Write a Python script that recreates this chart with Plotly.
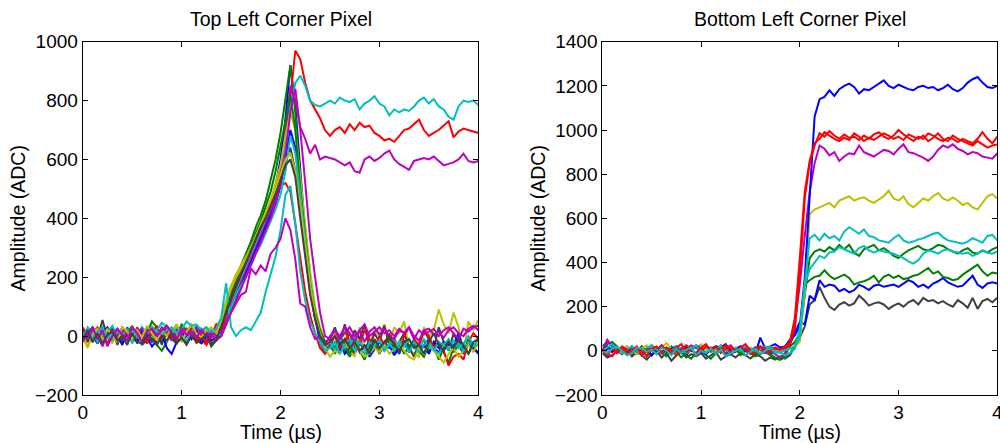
import plotly.graph_objects as go

# sample times (µs), 0.05 µs spacing
TIME = [round(i * 0.05, 2) for i in range(81)]

# ---------------- Top Left Corner Pixel ----------------
TL_BLUE_A = [0, 15, -10, 20, 5, -25, 10, -5, 25, 0, -15, 20, -30, -10, 15, 5, -20, 10, -5, 20, -15, 0, 25, -10, 15, -20, 5, 10,
             25, 70, 120, 160, 190, 230, 270, 310, 350, 400, 450, 510, 600, 740, 920,
             780, 560, 350, 170, 70, 10, -30,
             -40, -20, -50, -10, -30, -60, -25, -45, -15, -35, -55, -20, -40, -30, -60, -15, -45, -25, -50, -35, -10, -40, -55, -20, -30, -45, -15, -50, -25, -40, -55]
TL_GREEN_A = [-10, 10, 30, 5, -15, 20, -5, 15, -25, 10, 35, 0, -20, 25, 5, -30, -50, -20, 10, 40, -10, 20, 0, -15, 25, 10, -35, -15,
              40, 110, 170, 200, 240, 280, 320, 370, 410, 460, 530, 600, 690, 800, 920,
              760, 520, 330, 160, 60, 0, -40,
              -30, -60, -20, -45, -70, -35, -15, -50, -40, -25, -60, -30, -10, -45, -55, -20, -40, -65, -30, -15, -50, -35, -80, -40, -20, -55, -30, -45, -10, -35, -25]
TL_RED_A = [20, -5, 10, 30, -10, 0, 25, -20, 5, 15, -15, 30, 0, -25, 10, 20, -10, 5, 25, -5, 15, -20, 0, 20, -10, -30, 10, 25,
            40, 80, 130, 170, 200, 240, 280, 320, 360, 400, 440, 490, 560, 650,
            800, 970, 940, 860, 800, 770, 740, 700,
            680, 700, 710, 690, 720, 700, 725, 710, 715, 690, 680, 665, 670, 660, 680, 700, 705, 720, 735, 700, 680, 690, 700, 715, 730, 675, 695, 705, 700, 695, 690]
TL_CYAN_A = [10, -15, 25, 5, -20, 15, 35, 0, -10, 20, -25, 5, 30, 10, -15, 25, 0, -20, 15, 5, 40, 20, 35, 10, 25, -5, 15, 30,
             30, 60, 110, 150, 190, 230, 270, 310, 350, 390, 430, 480, 550, 650, 780, 860,
             885, 850, 800, 785, 780, 790,
             800, 790, 810, 800, 795, 805, 770, 790, 800, 815, 790, 780, 750, 770, 760, 770, 765, 780, 800, 810, 790, 805, 780, 770, 745, 735, 780, 800, 795, 800, 785]
TL_MAGENTA_A = [5, 25, -20, 10, 30, -5, 15, -15, 20, 0, -10, 25, 10, -20, 30, 5, -5, 20, -15, 10, 0, 25, -10, 15, 5, -20, 20, 0,
                10, 50, 90, 140, 180, 220, 260, 300, 340, 380, 420, 470, 560, 700,
                850, 800, 710, 670, 620, 650, 600, 610,
                605, 600, 590, 580, 590, 560, 555, 600, 610, 595, 605, 620, 630, 600, 585, 575, 565, 595, 600, 605, 600, 610, 595, 580, 585, 590, 600, 620, 595, 590, 595]
TL_YELLOW_A = [-10, -35, 15, 25, -5, 10, -25, 20, 5, -15, 30, 10, -20, 0, 35, 15, -10, 25, 5, 40, -5, 10, 30, 0, 20, 15, -10, 35,
               60, 120, 170, 210, 240, 270, 300, 340, 380, 420, 460, 520, 580, 680, 760,
               700, 550, 380, 220, 100, 30, -20,
               -40, 10, -30, 20, -50, -70, 30, -60, -30, 20, 0, 40, -20, 30, 10, 50, -40, -60, -70, 30, 0, 20, 90, 40, 10, 80, 30, -60, 50, 20, 55]
TL_GRAY_A = [0, -20, 30, -10, 55, -5, 25, -30, 10, -15, 30, -25, 20, 0, -20, 15, -30, 25, -10, -25, 5, -20, 15, -15, -25, 0, -30, -10,
             40, 100, 150, 190, 220, 250, 290, 330, 370, 410, 450, 490, 540, 600, 640,
             560, 420, 280, 150, 60, 10, -20,
             -10, 30, -20, 40, -30, 20, -10, 40, -40, 10, -20, 35, -30, -60, -20, 10, -40, -70, -30, 20, -10, -40, 30, -20, -50, 10, -30, -60, -20, -40, -10]
TL_BLUE_B = [-15, 20, 0, -25, 10, 30, -10, 5, -30, 15, 0, -20, 25, -5, -35, -15, 10, -40, -60, -20, 0, 15, -10, 20, -25, 5, -15, -5,
             0, 40, 90, 130, 170, 210, 250, 290, 330, 370, 410, 450, 510, 600, 700,
             640, 480, 320, 160, 60, -20, -60,
             -30, -50, -20, -60, -40, -10, -55, -35, -70, -45, -20, -50, -30, -65, -40, -25, -55, -10, -45, -30, -60, -20, -40, -50, -15, -35, 10, -45, -25, -40, -60]
TL_GREEN_B = [20, -5, 15, -20, 5, 25, -10, 10, -15, 30, 0, 20, -30, 10, 50, 30, 0, 35, 15, -20, 40, 10, 25, -5, 15, 30, 5, -10,
              30, 90, 140, 180, 220, 260, 300, 350, 390, 440, 490, 560, 640, 730, 820,
              700, 500, 330, 180, 80, 20, -20,
              -10, -40, 0, -30, -60, -20, -50, -80, -40, -20, -55, -30, -10, -45, -25, -60, -35, -15, -50, -70, -30, -45, -20, -55, -90, -40, -25, -35, -60, -30, -20]
TL_RED_B = [30, 0, 20, -15, 10, -25, 5, 25, -10, 15, -5, 20, 0, -20, 10, 35, -10, 15, -5, 20, -15, 5, 25, -25, 10, -30, 0, 40,
            20, 70, 120, 170, 210, 250, 290, 330, 370, 410, 450, 480, 510, 520, 490,
            380, 260, 150, 70, 10, -40, -60,
            -30, 0, -40, -20, 10, -50, -30, 20, -10, -40, 0, -30, 10, -20, -50, 0, 30, -10, -30, 20, 0, -40, -20, -50, -100, -70, -60, -80, -20, 10, -10]
TL_CYAN_B = [-5, 30, 10, -20, 5, 20, -15, 15, 0, 25, -10, 10, 30, 0, -5, 20, 45, 30, 10, 25, 0, -15, 15, 35, 10, 0, 20, 15,
             0, 40, 90, 140, 170, 200, 240, 280, 310, 350, 390, 430, 480, 560, 680,
             620, 480, 330, 180, 70, 0, -40,
             -20, -50, -10, -40, -30, 0, -45, -60, -20, -35, -15, -50, -30, -5, -40, -25, -55, -20, -40, -10, -35, -50, -20, -30, -45, -15, -40, -25, 0, -30, -20]
TL_MAGENTA_B = [15, -10, 25, 0, -35, 10, 20, -5, 30, 10, -10, 15, 25, -5, 20, 0, 30, 10, -15, 20, 5, 25, 0, 30, 10, 15, -5, 20,
                10, 40, 80, 120, 160, 200, 240, 280, 320, 360, 400, 450, 520, 620, 760,
                840, 700, 520, 330, 200, 80, 0,
                -10, 20, 0, 30, 10, -20, 20, 40, 0, 15, 30, 10, 20, 0, 25, 10, 30, -10, 20, 5, 15, 25, 0, 20, 30, 10, -10, 25, 15, 30, 35]
TL_YELLOW_B = [10, -40, 5, 20, -15, 25, 0, -20, 30, 15, -10, 20, -5, 35, 10, -15, 20, 0, 30, 10, -20, 15, 40, 10, -5, 20, 30, 10,
               50, 110, 160, 200, 230, 260, 300, 340, 380, 420, 460, 500, 550, 600, 620,
               560, 440, 300, 170, 70, 10, -40,
               -70, -50, -60, -30, -40, -20, -50, -70, -60, -40, -55, -30, -60, -45, -20, -50, -70, -80, -40, -60, -20, -50, -70, -90, -60, -40, -70, -50, -30, -55, -20]
TL_GRAY_B = [-10, 20, -20, 10, -25, 5, 15, -15, 0, -30, 10, -20, -25, 5, -10, -30, 0, -15, 10, -25, -5, -30, 0, -20, -10, 5, -25, -15,
             30, 80, 130, 170, 210, 250, 290, 330, 370, 400, 440, 480, 530, 580, 600,
             540, 400, 260, 140, 60, 0, -30,
             -20, 0, -30, -10, -40, -20, -50, -30, -60, -10, -40, -20, 0, -30, -50, -20, -10, -40, -30, -60, -20, 10, -30, -50, -20, -40, -10, -30, -60, -20, -10]
TL_CYAN_C = [0, 20, -10, 15, 30, -5, 10, 25, 0, -15, 20, 5, -25, 10, 30, 15, 5, 20, 30, 10, 25, 50, 35, 40, 20, 30, 10, 25,
             60, 180, 30, 0, 20, 30, 20, 50, 80, 150, 210, 270, 360, 480, 510, 380, 220, 120, 50, 10, -20, -50,
             -40, -20, -60, -30, -10, -50, -20, -40, -60, -30, -15, -45, -25, -50, -20, -35, -10, -40, -55, -30, -20, -45, -60, -30, -10, -40, -25, -50, -20, -35, -30]
TL_MAGENTA_C = [-20, 10, 30, -10, 20, -35, 0, 25, 5, -15, 30, 10, -20, 15, 25, 0, 20, 35, 10, -10, 25, 5, 15, -5, 20, 0, 10, -15,
                0, 40, 80, 110, 140, 150, 230, 210, 240, 220, 280, 300, 330, 400, 360, 260, 110, 100, 30, -10, 0, -30,
                0, 20, -10, 10, 30, 0, 20, -20, 15, 30, 5, 25, 0, -10, 20, 10, 30, 0, -15, 20, 25, 5, 15, -5, 20, 30, 10, 0, 25, 35, 20]

# ---------------- Bottom Left Corner Pixel ----------------
BL_BLUE_HI = [0, 20, 5, -10, 15, -5, 20, 0, -15, 10, -20, 5, 25, -5, 10, 20, -10, 15, 0, 25, 10, -15, 5, 20, 15, 30, -5, 10, 20, 0, -10, 15, 5, 10, 20, 30, 15, 20,
              50, 70, 110, 330, 700, 1060, 1140,
              1150, 1180, 1155, 1185, 1200, 1210, 1195, 1165, 1185, 1180, 1195, 1210, 1225, 1200, 1190, 1205, 1195, 1185, 1180, 1195, 1200, 1190, 1195, 1180, 1190, 1205, 1185, 1175, 1190, 1215, 1230, 1240, 1215, 1195, 1190, 1200]
BL_RED_A = [0, -20, 10, -10, 20, 5, -15, 15, 0, -25, 10, 20, -5, 15, 0, -20, 10, 25, 5, -10, 15, 30, 0, 20, -10, 10, 25, 0, 15, 5, -15, 10, 20, 0, 15, 10, 5, 15,
            30, 100, 350, 690, 850, 930, 985,
            970, 995, 975, 960, 980, 965, 970, 955, 975, 960, 980, 990, 970, 960, 975, 1000, 980, 965, 950, 970, 960, 985, 975, 960, 950, 965, 960, 945, 960, 950, 940, 960, 990, 960, 940, 970]
BL_RED_B = [10, -15, -25, 5, 15, -10, 0, 20, -20, 5, 10, -15, 25, 0, -10, 15, 30, -5, 10, -20, 0, 20, 10, -15, 5, 25, -10, 0, 15, 30, 0, -15, 20, 10, -5, 15, 5, 20,
            40, 150, 420, 720, 860, 940, 960,
            990, 975, 960, 950, 965, 955, 985, 970, 950, 965, 955, 970, 985, 975, 960, 970, 955, 980, 970, 960, 975, 950, 965, 985, 960, 950, 975, 960, 950, 940, 930, 950, 935, 920, 930, 935]
BL_MAGENTA = [0, 50, 20, -10, 10, -5, 15, 0, -20, 10, 25, 5, -10, 15, 0, 20, -5, 10, 25, 15, 0, -15, 10, 20, 5, -10, 15, 0, 20, 10, -5, 15, 5, -10, 0, -15, -30, -10,
              40, 120, 300, 520, 720, 850, 930,
              915, 885, 900, 860, 880, 895, 890, 930, 900, 890, 880, 895, 910, 905, 890, 915, 935, 900, 895, 885, 875, 860, 880, 910, 930, 920, 935, 915, 905, 890, 900, 895, 880, 875, 870, 895]
BL_YELLOW = [10, -5, 15, 0, -10, 20, 5, -15, 10, 25, 0, -10, 15, 35, 10, 20, 0, -5, 20, 10, 30, -5, 15, 0, 25, 10, -10, 5, 20, 0, 15, 5, -10, 20, 10, 0, 5, 0,
             10, 20, 40, 260, 620, 640, 650,
             660, 670, 650, 680, 690, 700, 680, 690, 695, 680, 670, 685, 700, 725, 690, 680, 700, 665, 650, 670, 690, 680, 700, 715, 690, 680, 695, 680, 660, 670, 650, 640, 670, 700, 710, 690]
BL_CYAN_A = [0, 15, 30, 10, -10, 5, 20, 0, -15, 10, 25, 5, -5, 15, 0, 20, 10, -10, 5, 25, 0, 15, -5, 10, 20, 5, -10, 15, 0, 20, 10, -5, 5, 20, 10, 0, -10, 5,
             10, 20, 60, 300, 510, 525, 500,
             530, 510, 520, 500, 540, 560, 545, 530, 550, 520, 515, 500, 495, 490, 510, 525, 500, 490, 495, 505, 510, 520, 530, 535, 515, 500, 495, 490, 485, 495, 510, 500, 490, 520, 525, 500]
BL_GREEN_A = [20, 40, 30, 10, -5, 20, 0, -15, 10, -25, 5, 15, -10, 0, 20, -5, 10, -20, -35, -10, 5, 15, -5, 10, 0, -15, 10, 5, -10, 15, 0, -20, -10, 5, -15, -30, -40, -20,
              20, 40, 80, 250, 420, 450, 460,
              450, 470, 455, 480, 460, 480, 445, 430, 460, 470, 480, 455, 465, 450, 430, 420, 440, 455, 465, 475, 460, 455, 465, 480, 475, 460, 450, 440, 455, 465, 445, 440, 455, 445, 460, 470]
BL_CYAN_B = [0, -10, 10, 20, 0, -20, -10, 15, 10, -5, 5, -15, 15, 0, -20, 10, -10, 5, 15, -20, 0, -10, 10, -15, 5, -25, -10, 0, 10, -20, -5, 10, -15, 0, 20, -10, -5, -20,
             -10, 10, 100, 300, 370, 400, 430,
             420, 445, 450, 470, 460, 450, 440, 465, 475, 455, 445, 455, 450, 445, 440, 430, 420, 405, 395, 410, 440, 455, 450, 440, 455, 460, 450, 445, 440, 445, 430, 440, 455, 445, 440, 450]
BL_GREEN_B = [0, 30, 40, 20, -10, 10, -15, -5, 20, 0, -20, 5, -10, -25, 10, -5, -30, -10, 5, -15, 0, -20, -35, -10, 5, -15, -5, 10, -20, 0, -10, -25, -15, -5, -20, -35, -40, -30,
              -10, 20, 80, 300, 320, 335, 340,
              365, 340, 325, 335, 345, 330, 300, 310, 315, 325, 340, 310, 335, 345, 330, 340, 325, 330, 340, 345, 360, 375, 350, 360, 335, 330, 320, 325, 345, 360, 375, 390, 360, 340, 355, 350]
BL_BLUE_LO = [0, 10, -5, 15, 0, -15, 5, -10, 20, -5, -20, 10, -10, 5, -15, 15, 0, -20, 10, 20, -5, -15, 15, 0, 25, 10, -10, -5, 15, 10, 0, -15, 60, 10, -10, -5, 0, 10,
              30, 80, 130, 120, 250, 230, 320,
              290, 300, 295, 270, 280, 265, 275, 300, 290, 275, 295, 300, 290, 295, 300, 290, 305, 320, 310, 290, 300, 285, 305, 315, 330, 310, 300, 290, 295, 320, 340, 300, 285, 305, 310, 305]
BL_GRAY = [-10, -30, -20, 0, -15, 10, -25, -5, -20, -40, -15, 0, -30, -10, -45, -20, -5, -30, -15, -25, -10, -35, -20, -5, -40, -25, -15, -30, -10, -20, -35, -15, -25, -45, -30, -40, -25, -35,
           -20, 20, 60, 110, 210, 230, 290,
           240, 200, 185, 210, 220, 205, 215, 250, 230, 205, 215, 220, 210, 190, 205, 215, 200, 220, 230, 210, 240, 225, 230, 215, 225, 210, 200, 230, 215, 195, 240, 190, 225, 235, 220, 240]

BLUE, GREEN, RED = "#0000ff", "#008000", "#ff0000"
CYAN, MAGENTA, YELLOW, GRAY = "#00bfbf", "#bf00bf", "#bfbf00", "#404040"

LEFT = [
    (TL_BLUE_A, BLUE), (TL_GREEN_A, GREEN), (TL_RED_A, RED), (TL_CYAN_A, CYAN),
    (TL_MAGENTA_A, MAGENTA), (TL_YELLOW_A, YELLOW), (TL_GRAY_A, GRAY),
    (TL_BLUE_B, BLUE), (TL_GREEN_B, GREEN), (TL_RED_B, RED), (TL_CYAN_B, CYAN),
    (TL_MAGENTA_B, MAGENTA), (TL_YELLOW_B, YELLOW), (TL_CYAN_C, CYAN),
    (TL_MAGENTA_C, MAGENTA), (TL_GRAY_B, GRAY),
]
RIGHT = [
    (BL_GRAY, GRAY), (BL_BLUE_LO, BLUE), (BL_GREEN_B, GREEN), (BL_GREEN_A, GREEN),
    (BL_YELLOW, YELLOW), (BL_MAGENTA, MAGENTA), (BL_BLUE_HI, BLUE), (BL_CYAN_A, CYAN),
    (BL_RED_A, RED), (BL_RED_B, RED), (BL_CYAN_B, CYAN),
]

fig = go.Figure()
for ys, col in LEFT:
    assert len(ys) == len(TIME), len(ys)
    fig.add_trace(go.Scatter(x=TIME, y=ys, mode="lines", line=dict(color=col, width=2),
                             xaxis="x", yaxis="y", showlegend=False, hoverinfo="skip"))
for ys, col in RIGHT:
    assert len(ys) == len(TIME), len(ys)
    fig.add_trace(go.Scatter(x=TIME, y=ys, mode="lines", line=dict(color=col, width=2),
                             xaxis="x2", yaxis="y2", showlegend=False, hoverinfo="skip"))

FONT = "Liberation Sans, Arial, Helvetica, sans-serif"
FS_TICK = 19
FS_LAB = 19.5
H, W = 443, 1000
top_px, bot_px = 41.7, 395.0
ydom = [1 - bot_px / H, 1 - top_px / H]

axis_common = dict(showline=True, linecolor="black", linewidth=1, mirror="ticks",
                   ticks="inside", ticklen=5, tickcolor="black", showgrid=False,
                   zeroline=False, automargin=False, ticklabeloverflow="allow",
                   tickfont=dict(family=FONT, size=FS_TICK, color="black"))

fig.update_layout(
    template="none",
    width=W, height=H, margin=dict(l=0, r=0, t=0, b=0, pad=0),
    paper_bgcolor="white", plot_bgcolor="white",
    font=dict(family=FONT, size=FS_TICK, color="black"),
    xaxis=dict(domain=[82.7 / W, 478.3 / W], range=[0, 4], tickvals=[0, 1, 2, 3, 4],
               anchor="y", **axis_common),
    yaxis=dict(domain=ydom, range=[-200, 1000], tickvals=list(range(-200, 1001, 200)),
               anchor="x", **axis_common),
    xaxis2=dict(domain=[602.3 / W, 997.3 / W], range=[0, 4], tickvals=[0, 1, 2, 3, 4],
                anchor="y2", **axis_common),
    yaxis2=dict(domain=ydom, range=[-200, 1400], tickvals=list(range(-200, 1401, 200)),
                anchor="x2", **axis_common),
)

def ann(text, x_px, y_px, angle=0, size=FS_LAB):
    fig.add_annotation(text=text, x=x_px / W, y=1 - y_px / H, xref="paper", yref="paper",
                       showarrow=False, textangle=angle, xanchor="center", yanchor="middle",
                       borderpad=0, font=dict(family=FONT, size=size, color="black"))

ann("Top Left Corner Pixel", 280.5, 19)
ann("Bottom Left Corner Pixel", 800, 19)
ann("Time (µs)", 280.5, 432)
ann("Time (µs)", 800, 432)
ann("Amplitude (ADC)", 18, 218.4, angle=-90)
ann("Amplitude (ADC)", 538, 218.4, angle=-90)

fig.write_html(
    "out.html",
    config={"displayModeBar": False, "staticPlot": True},
    post_script="document.body.style.margin='0px';document.body.style.padding='0px';"
                "document.documentElement.style.overflow='hidden';",
)
